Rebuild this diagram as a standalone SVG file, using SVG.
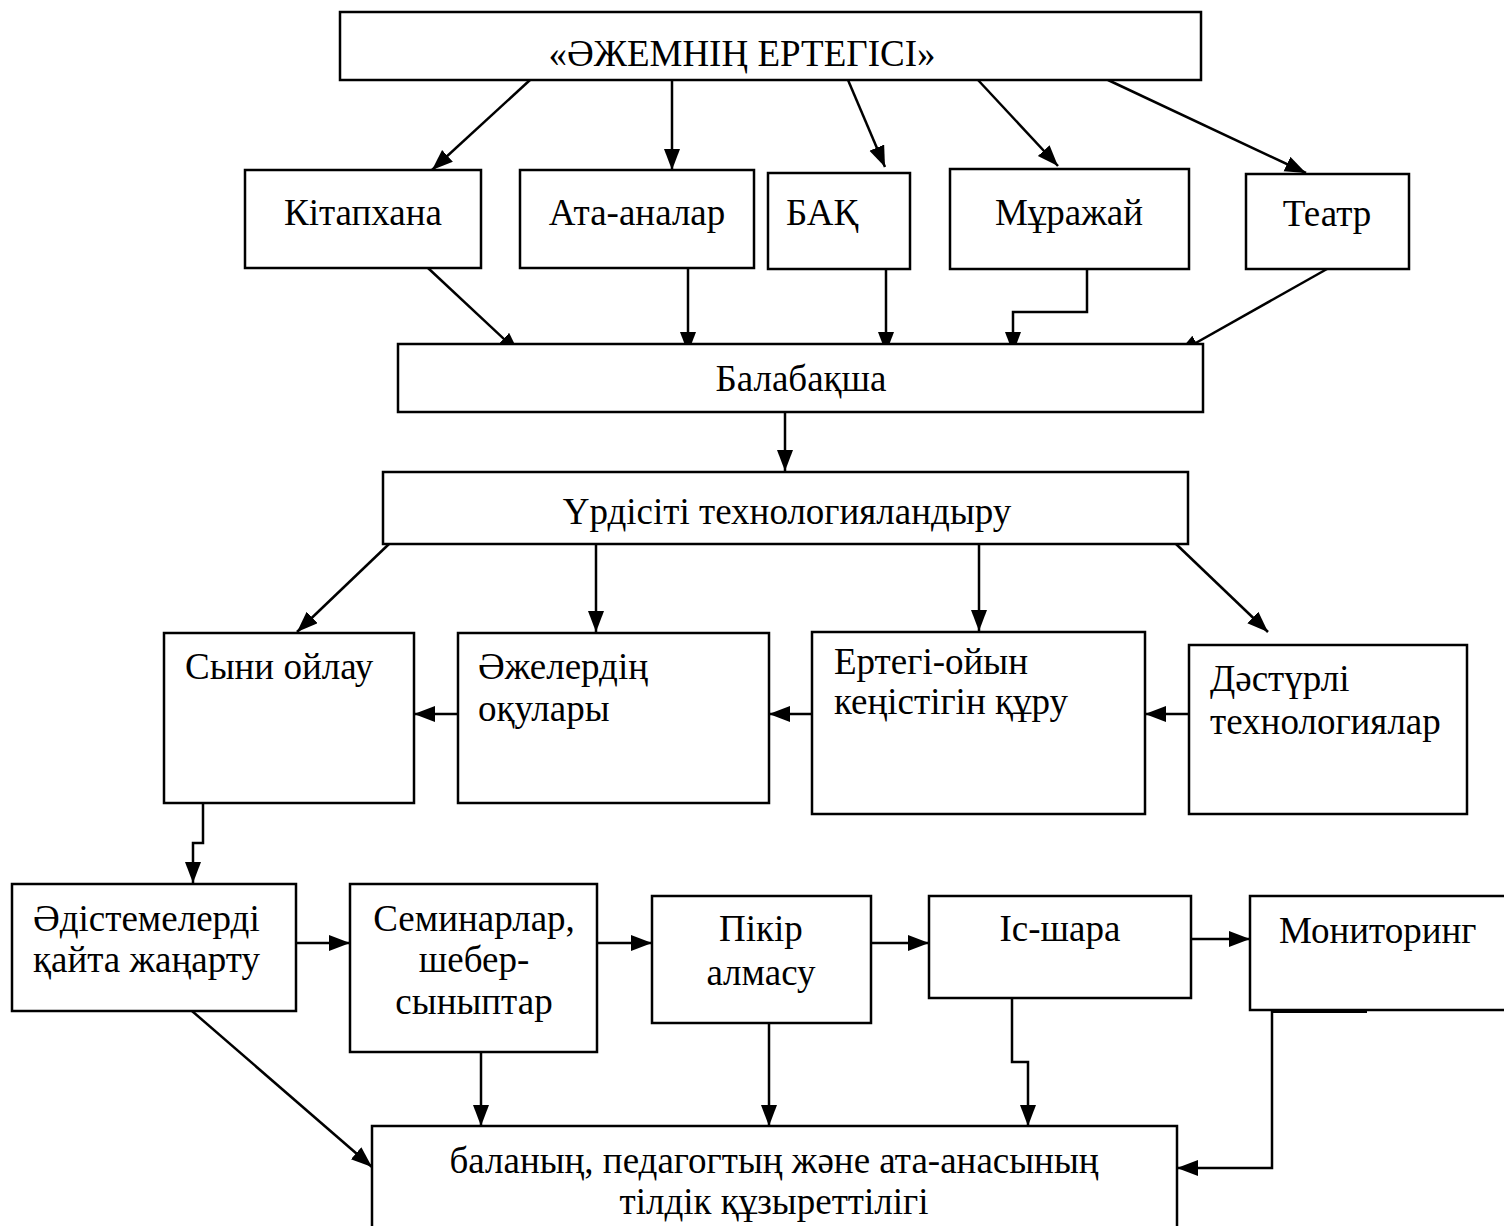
<svg xmlns="http://www.w3.org/2000/svg" width="1504" height="1226" viewBox="0 0 1504 1226">
<defs>
<marker id="ah" markerUnits="userSpaceOnUse" markerWidth="24" markerHeight="18" refX="21" refY="8" orient="auto">
<path d="M0,0 L21,8 L0,16 z" fill="#000"/>
</marker>
<style>
.box{fill:#fff;stroke:#000;stroke-width:2.5}
.t{font-family:"Liberation Serif","Times New Roman",serif;font-size:37px;fill:#000}
.m{text-anchor:middle}
.c{fill:none;stroke:#000;stroke-width:2.5;marker-end:url(#ah)}
.p{fill:none;stroke:#000;stroke-width:3}
</style>
</defs>
<rect width="1504" height="1226" fill="#fff"/>
<g id="connectors">
<path class="c" d="M530,80 L432,170"/>
<path class="c" d="M672,80 L672,170"/>
<path class="c" d="M848,80 L885,167"/>
<path class="c" d="M978,80 L1058,166"/>
<path class="c" d="M1108,80 L1306,173"/>
<path class="c" d="M428,268 L519,353"/>
<path class="c" d="M688,268 L688,353"/>
<path class="c" d="M886,269 L886,353"/>
<path class="c" d="M1087,269 L1087,312 L1013,312 L1013,353"/>
<path class="c" d="M1327,269 L1178,353"/>
<path class="c" d="M785,412 L785,471"/>
<path class="c" d="M389,544 L297,632"/>
<path class="c" d="M596,544 L596,632"/>
<path class="c" d="M979,544 L979,631"/>
<path class="c" d="M1176,544 L1268,632"/>
<path class="c" d="M458,714 L414,714"/>
<path class="c" d="M812,714 L769,714"/>
<path class="c" d="M1189,714 L1145,714"/>
<path class="c" d="M203,803 L203,843 L193,843 L193,883"/>
<path class="c" d="M296,943 L350,943"/>
<path class="c" d="M597,943 L652,943"/>
<path class="c" d="M871,943 L929,943"/>
<path class="c" d="M1191,939 L1250,939"/>
<path class="c" d="M192,1011 L372,1167"/>
<path class="c" d="M481,1052 L481,1126"/>
<path class="c" d="M769,1023 L769,1126"/>
<path class="c" d="M1012,998 L1012,1062 L1028,1062 L1028,1126"/>
<path class="c" d="M1272,1011 L1272,1168 L1177,1168"/>
<path class="p" d="M1272,1011.5 L1367,1011.5"/>
</g>
<g id="n-top"><rect class="box" x="340" y="12" width="861" height="68"/><text class="t m" x="742" y="66">«ӘЖЕМНІҢ ЕРТЕГІСІ»</text></g>
<g id="n-kitap"><rect class="box" x="245" y="170" width="236" height="98"/><text class="t m" x="363" y="225">Кітапхана</text></g>
<g id="n-ata"><rect class="box" x="520" y="170" width="234" height="98"/><text class="t m" x="637" y="225">Ата-аналар</text></g>
<g id="n-bak"><rect class="box" x="768" y="173" width="142" height="96"/><text class="t" x="786" y="225">БАҚ</text></g>
<g id="n-murajai"><rect class="box" x="950" y="169" width="239" height="100"/><text class="t m" x="1069" y="225">Мұражай</text></g>
<g id="n-teatr"><rect class="box" x="1246" y="174" width="163" height="95"/><text class="t m" x="1327" y="226">Театр</text></g>
<g id="n-balabaqsha"><rect class="box" x="398" y="344" width="805" height="68"/><text class="t m" x="801" y="391">Балабақша</text></g>
<g id="n-urdis"><rect class="box" x="383" y="472" width="805" height="72"/><text class="t m" x="787" y="524">Үрдісіті технологияландыру</text></g>
<g id="n-syni"><rect class="box" x="164" y="633" width="250" height="170"/><text class="t" x="185" y="679">Сыни ойлау</text></g>
<g id="n-ajeler"><rect class="box" x="458" y="633" width="311" height="170"/><text class="t" x="478" y="679">Әжелердің</text><text class="t" x="478" y="721">оқулары</text></g>
<g id="n-ertegi"><rect class="box" x="812" y="632" width="333" height="182"/><text class="t" x="834" y="674">Ертегі-ойын</text><text class="t" x="834" y="714">кеңістігін құру</text></g>
<g id="n-dastur"><rect class="box" x="1189" y="645" width="278" height="169"/><text class="t" x="1210" y="691">Дәстүрлі</text><text class="t" x="1210" y="734">технологиялар</text></g>
<g id="n-adis"><rect class="box" x="12" y="884" width="284" height="127"/><text class="t" x="33" y="931">Әдістемелерді</text><text class="t" x="33" y="972">қайта жаңарту</text></g>
<g id="n-seminar"><rect class="box" x="350" y="884" width="247" height="168"/><text class="t m" x="474" y="931">Семинарлар,</text><text class="t m" x="474" y="972">шебер-</text><text class="t m" x="474" y="1014">сыныптар</text></g>
<g id="n-pikir"><rect class="box" x="652" y="896" width="219" height="127"/><text class="t m" x="761" y="941">Пікір</text><text class="t m" x="761" y="985">алмасу</text></g>
<g id="n-is"><rect class="box" x="929" y="896" width="262" height="102"/><text class="t m" x="1060" y="941">Іс-шара</text></g>
<g id="n-monitor"><rect class="box" x="1250" y="896" width="300" height="114"/><text class="t" x="1279" y="943">Мониторинг</text></g>
<g id="n-bottom"><rect class="box" x="372" y="1126" width="805" height="130"/><text class="t m" x="774" y="1173">баланың, педагогтың және ата-анасының</text><text class="t m" x="774" y="1214">тілдік құзыреттілігі</text></g>
</svg>
